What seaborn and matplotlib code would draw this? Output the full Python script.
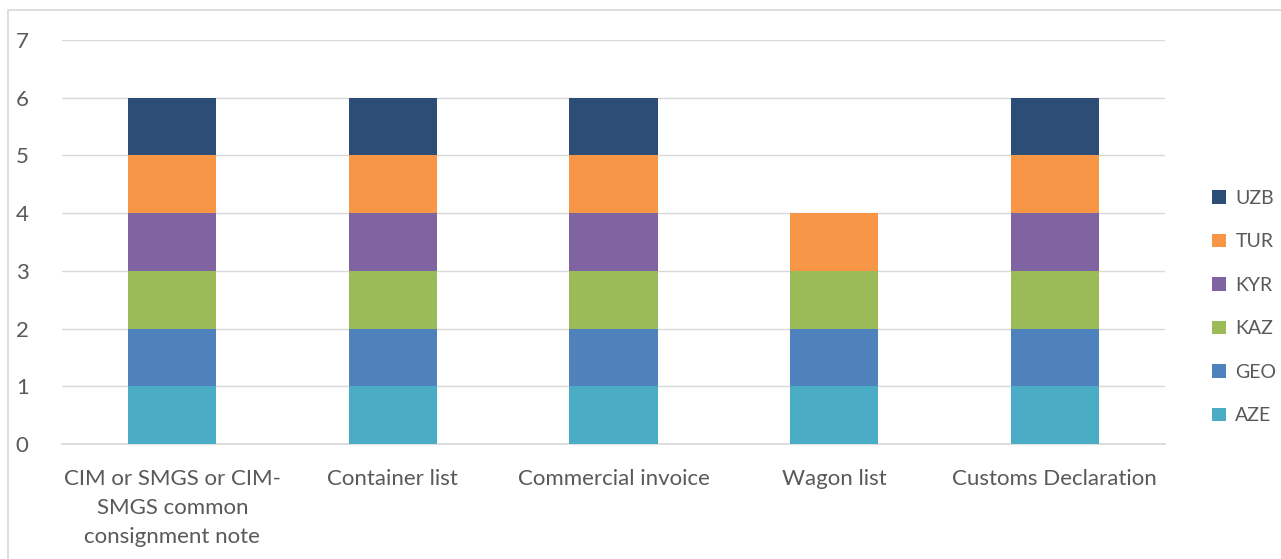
import matplotlib
matplotlib.use("Agg")
import matplotlib.pyplot as plt
import seaborn as sns
import pandas as pd
import numpy as np
from matplotlib.patches import Patch, Rectangle

categories = ["CIM or SMGS or CIM-\nSMGS common\nconsignment note", "Container list",
              "Commercial invoice", "Wagon list", "Customs Declaration"]
series_names = ["AZE", "GEO", "KAZ", "KYR", "TUR", "UZB"]
AZE = [1, 1, 1, 1, 1]
GEO = [1, 1, 1, 1, 1]
KAZ = [1, 1, 1, 1, 1]
KYR = [1, 1, 1, 0, 1]
TUR = [1, 1, 1, 1, 1]
UZB = [1, 1, 1, 0, 1]
series_values = [AZE, GEO, KAZ, KYR, TUR, UZB]
colors = {"AZE": "#4BACC6", "GEO": "#4F81BD", "KAZ": "#9BBB59",
          "KYR": "#8064A2", "TUR": "#F79646", "UZB": "#2C4D75"}
yticks = [0, 1, 2, 3, 4, 5, 6, 7]

sns.set_theme(style="white")
plt.rcParams['font.family'] = ['Lato', 'DejaVu Sans']
text_color = "#595959"

fig = plt.figure(figsize=(12.81, 5.59), dpi=100)
ax = fig.add_axes([62/1281, 1-444/559, (1165-62)/1281, (444-40)/559])

cum = np.cumsum(np.array(series_values), axis=0)
# draw from top layer down so lower layers overlay
for i in range(len(series_names) - 1, -1, -1):
    df = pd.DataFrame({"cat": categories, "val": cum[i]})
    sns.barplot(data=df, x="cat", y="val", color=colors[series_names[i]],
                width=0.4, saturation=1, ax=ax, zorder=3, linewidth=0)

ax.set_xlim(-0.5, 4.5)
ax.set_ylim(0, 7)
ax.set_yticks(yticks)
ax.set_yticklabels([str(t) for t in yticks])
ax.grid(axis="y", color="#D9D9D9", linewidth=1, zorder=0)
ax.grid(axis="x", visible=False)
for s in ["top", "right", "left"]:
    ax.spines[s].set_visible(False)
ax.spines["bottom"].set_color("#D9D9D9")
ax.set_xlabel("")
ax.set_ylabel("")
ax.tick_params(axis="both", length=0, labelsize=16, colors=text_color)
ax.tick_params(axis="x", pad=18)
ax.tick_params(axis="y", pad=24)
for lbl in ax.get_xticklabels():
    lbl.set_linespacing(1.55)

handles = [Patch(facecolor=colors[n], edgecolor="none") for n in series_names[::-1]]
leg = fig.legend(handles, series_names[::-1], loc="center left",
                 bbox_to_anchor=(1212/1281, 1-(307)/559), frameon=False,
                 fontsize=14, labelspacing=1.36, handlelength=0.7, handleheight=0.7,
                 handletextpad=0.5, labelcolor=text_color, borderpad=0, borderaxespad=0)

fig.patches.append(Rectangle((8/1281, -0.05), 1.2, 1-10/559+0.05, transform=fig.transFigure,
                             fill=False, edgecolor="#D9D9D9", linewidth=1.2))

fig.savefig("out.png", dpi=100)
